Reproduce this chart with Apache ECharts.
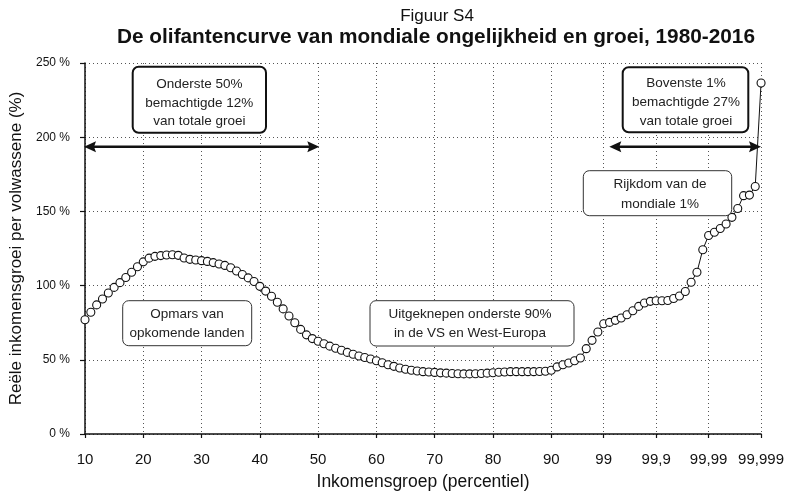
<!DOCTYPE html>
<html>
<head>
<meta charset="utf-8">
<script src="https://cdn.jsdelivr.net/npm/echarts@6/dist/echarts.min.js"></script>
<style>
html,body{margin:0;padding:0;background:#fff;}
#chart{width:787px;height:497px;}
</style>
</head>
<body>
<div id="chart"></div>
<script>
// Percentile groups (x categories)
const percentiles = [
  '10','11','12','13','14','15','16','17','18','19',
  '20','21','22','23','24','25','26','27','28','29',
  '30','31','32','33','34','35','36','37','38','39',
  '40','41','42','43','44','45','46','47','48','49',
  '50','51','52','53','54','55','56','57','58','59',
  '60','61','62','63','64','65','66','67','68','69',
  '70','71','72','73','74','75','76','77','78','79',
  '80','81','82','83','84','85','86','87','88','89',
  '90','91','92','93','94','95','96','97','98','99',
  '99,1','99,2','99,3','99,4','99,5','99,6','99,7','99,8','99,9',
  '99,91','99,92','99,93','99,94','99,95','99,96','99,97','99,98','99,99',
  '99,991','99,992','99,993','99,994','99,995','99,996','99,997','99,998','99,999'
];
// Real income growth per adult (%) 1980-2016
const growth = [
  77, 82, 87, 91, 95, 98.8, 102, 105.5, 109, 112.7,
  116, 118.5, 119.7, 120.2, 120.6, 120.8, 120.4, 118.6, 117.7, 117.3,
  116.8, 116.3, 115.5, 114.6, 113.6, 112, 109.8, 107.5, 105.2, 102.8,
  99.5, 96.3, 92.8, 88.8, 84.3, 79.5, 75, 70.5, 66.8, 64.3,
  62.5, 60.8, 59.2, 57.8, 56.4, 55, 53.7, 52.6, 51.5, 50.5,
  49.4, 48, 46.7, 45.6, 44.5, 43.6, 43, 42.5, 42, 41.8,
  41.5, 41.2, 41, 40.8, 40.6, 40.5, 40.5, 40.6, 40.8, 41,
  41.3, 41.6, 41.8, 42, 42, 42, 42, 42, 42.1, 42.3,
  43, 45.2, 46.7, 47.8, 49.4, 51.2, 57.5, 63.1, 68.7, 74.3,
  75.2, 76.6, 78.2, 80.4, 83.1, 86, 88.3, 89.4, 89.8,
  89.8, 90, 91.3, 93, 96, 102.3, 109, 124.2, 133.8,
  136, 138.5, 141.5, 146, 152, 160.6, 161, 166.8, 236.5
];
// Labelled ticks on the x axis
const tickLabels = ['10','20','30','40','50','60','70','80','90','99','99,9','99,99','99,999'];
const yTicks = [0, 50, 100, 150, 200, 250];

const titleText = 'Figuur S4';
const subtitleText = 'De olifantencurve van mondiale ongelijkheid en groei, 1980-2016';
const xName = 'Inkomensgroep (percentiel)';
const yName = 'Reële inkomensgroei per volwassene (%)';
const notes = {
  bottom50: 'Onderste 50%\nbemachtigde 12%\nvan totale groei',
  top1: 'Bovenste 1%\nbemachtigde 27%\nvan totale groei',
  wealth: 'Rijkdom van de\nmondiale 1%',
  emerging: 'Opmars van\nopkomende landen',
  squeezed: 'Uitgeknepen onderste 90%\nin de VS en West-Europa'
};

const FONT = '"Liberation Sans", Arial, sans-serif';
const isTick = (idx) => tickLabels.indexOf(percentiles[idx]) >= 0;
const dotted = {type: [1, 3], color: '#555', width: 1};

function box(x, y, w, h, thick, text, cx, cy, lh) {
  return [
    {type: 'rect', z: 50, shape: {x: x, y: y, width: w, height: h, r: 6},
     style: {fill: '#fff', stroke: thick ? '#111' : '#333', lineWidth: thick ? 2 : 1}},
    {type: 'text', z: 51, x: cx, y: cy,
     style: {text: text, fill: '#222', font: '13.5px ' + FONT, align: 'center',
             verticalAlign: 'middle', lineHeight: lh}}
  ];
}
function arrow(x1, x2, y) {
  const L = 12, W = 5.5;
  return [
    {type: 'line', z: 50, shape: {x1: x1 + 6, y1: y, x2: x2 - 6, y2: y},
     style: {stroke: '#111', lineWidth: 2.5}},
    {type: 'polygon', z: 51, shape: {points: [[x1, y], [x1 + L, y - W], [x1 + L - 2, y], [x1 + L, y + W]]},
     style: {fill: '#111'}},
    {type: 'polygon', z: 51, shape: {points: [[x2, y], [x2 - L, y - W], [x2 - L + 2, y], [x2 - L, y + W]]},
     style: {fill: '#111'}}
  ];
}

const chart = echarts.init(document.getElementById('chart'), null, {renderer: 'canvas'});
chart.setOption({
  animation: false,
  backgroundColor: '#fff',
  title: [
    {text: titleText, left: 432, top: 3, textAlign: 'center',
     textStyle: {fontFamily: FONT, fontSize: 17, fontWeight: 'normal', color: '#111'}},
    {text: subtitleText, left: 436, top: 22, textAlign: 'center',
     textStyle: {fontFamily: FONT, fontSize: 20.8, fontWeight: 'bold', color: '#111'}}
  ],
  grid: {left: 83, right: 19, top: 63, bottom: 63, containLabel: false},
  xAxis: {
    type: 'category',
    data: percentiles,
    boundaryGap: false,
    name: xName,
    nameLocation: 'middle',
    nameGap: 39,
    nameTextStyle: {fontFamily: FONT, fontSize: 17.5, color: '#111'},
    axisLine: {lineStyle: {color: '#111', width: 1.5}},
    axisTick: {show: true, length: 4, interval: (i) => isTick(i), lineStyle: {color: '#111', width: 1.2}},
    axisLabel: {interval: (i) => isTick(i), margin: 18, fontFamily: FONT, fontSize: 15, color: '#111'},
    splitLine: {show: true, interval: (i) => isTick(i), lineStyle: dotted}
  },
  yAxis: {
    type: 'value',
    min: yTicks[0],
    max: yTicks[yTicks.length - 1],
    interval: 50,
    name: yName,
    nameLocation: 'middle',
    nameGap: 60,
    nameTextStyle: {fontFamily: FONT, fontSize: 17, color: '#111'},
    axisLine: {show: true, lineStyle: {color: '#111', width: 1.5}},
    axisTick: {show: true, length: 5, lineStyle: {color: '#111', width: 1.2}},
    axisLabel: {formatter: '{value} %', margin: 15, fontFamily: FONT, fontSize: 12, color: '#111'},
    splitLine: {show: true, lineStyle: dotted}
  },
  series: [{
    type: 'line',
    data: growth,
    showAllSymbol: true,
    symbol: 'circle',
    symbolSize: 8,
    lineStyle: {color: '#111', width: 1},
    itemStyle: {color: '#fff', borderColor: '#111', borderWidth: 1.1},
    z: 10
  }],
  graphic: [].concat(
    box(132.7, 66.7, 133.3, 66, true, notes.bottom50, 199.3, 103, 18.7),
    box(622.7, 67.3, 125.6, 65, true, notes.top1, 686, 102, 19),
    box(583.3, 170.7, 148.4, 45, false, notes.wealth, 660, 194.5, 20.5),
    box(122.7, 300.7, 129, 45, false, notes.emerging, 187, 323.5, 18.7),
    box(370, 300.7, 204, 45.3, false, notes.squeezed, 470, 323.5, 18.7),
    arrow(84, 319.3, 146.7),
    arrow(609.3, 761, 146.7)
  )
});
chart.setOption({title: [{left: 432}, {left: 436 - 5}]});
</script>
</body>
</html>
